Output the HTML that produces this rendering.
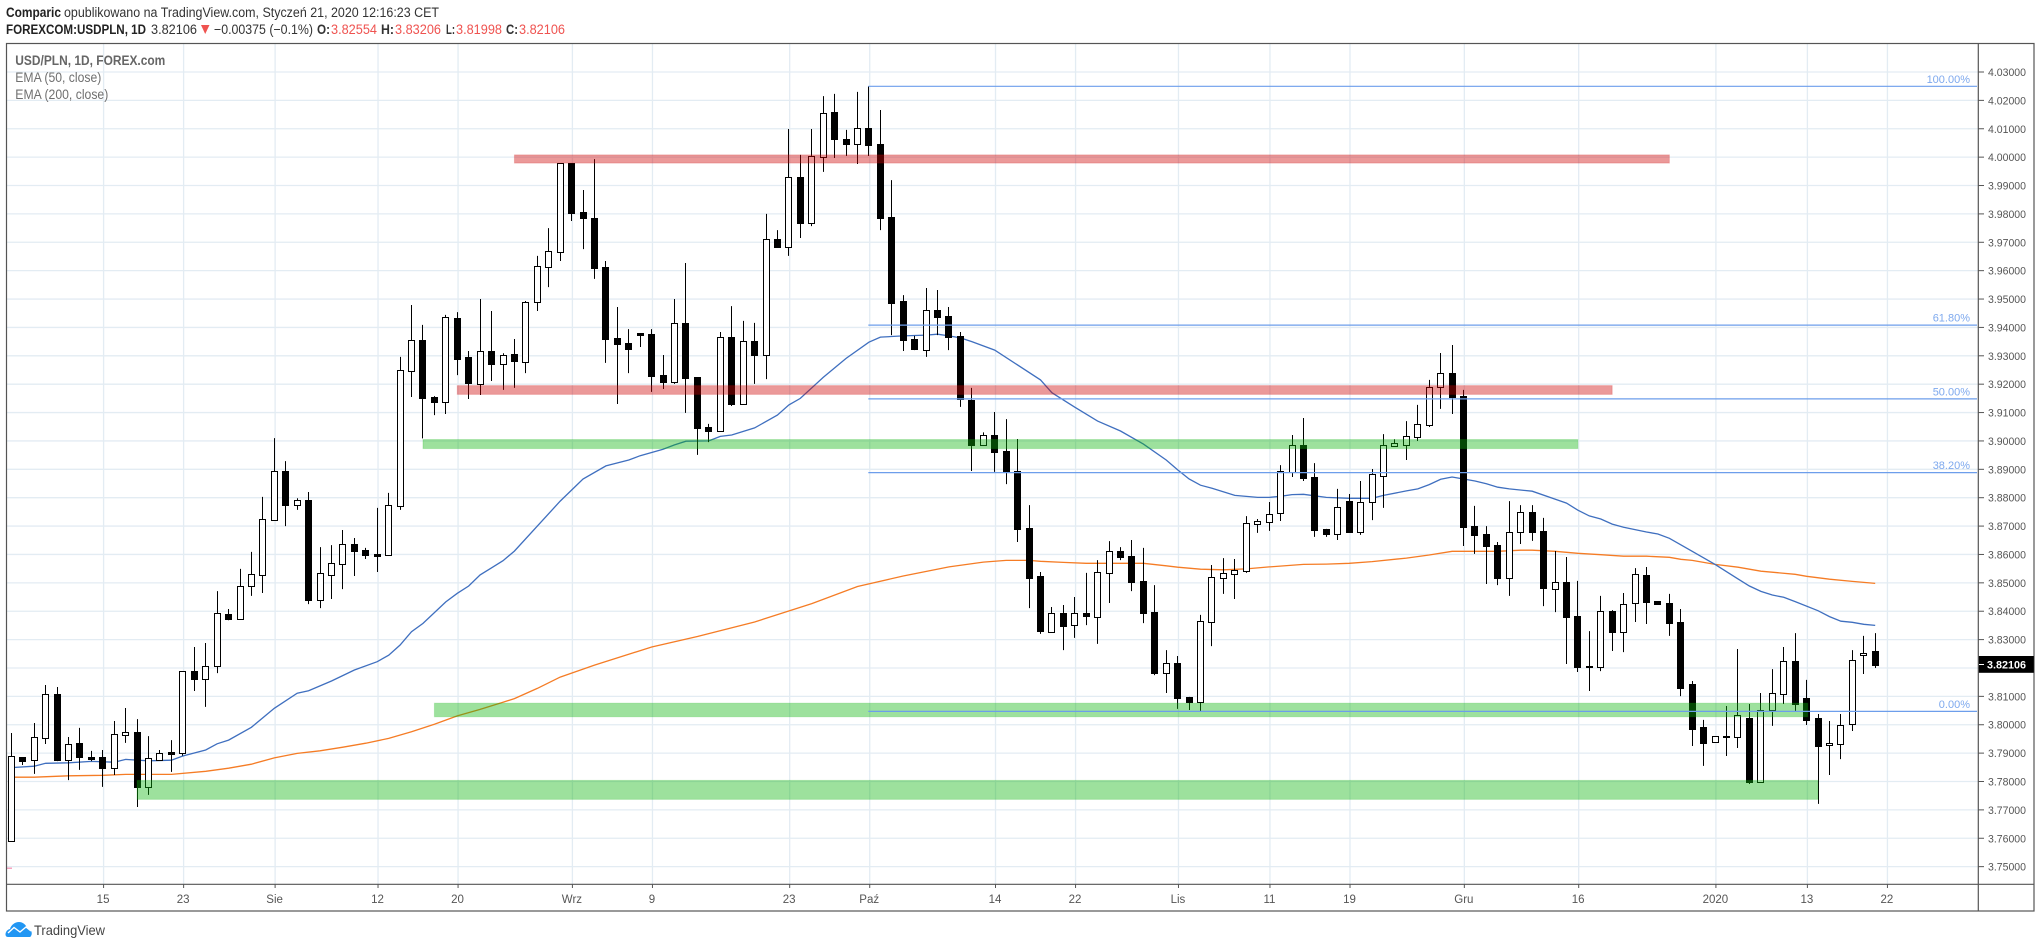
<!DOCTYPE html>
<html lang="pl">
<head>
<meta charset="utf-8">
<title>USD/PLN 1D chart</title>
<style>
html,body{margin:0;padding:0;background:#fff;width:2041px;height:948px;overflow:hidden}
svg{display:block;font-family:"Liberation Sans",sans-serif}
</style>
</head>
<body>
<svg id="chart" xmlns="http://www.w3.org/2000/svg" width="2041" height="948" viewBox="0 0 2041 948">
  <rect x="0" y="0" width="2041" height="948" fill="#fff"/>

  <g font-size="13.5" fill="#333">
    <text x="6" y="17" font-weight="bold" textLength="55" lengthAdjust="spacingAndGlyphs" fill="#222">Comparic</text>
    <text x="64" y="17" textLength="375" lengthAdjust="spacingAndGlyphs">opublikowano na TradingView.com, Styczeń 21, 2020 12:16:23 CET</text>
    <text x="6" y="34" font-weight="bold" textLength="140" lengthAdjust="spacingAndGlyphs" fill="#222">FOREXCOM:USDPLN, 1D</text>
    <text x="151" y="34" textLength="46" lengthAdjust="spacingAndGlyphs">3.82106</text>
    <polygon points="201,25 209.5,25 205.2,34" fill="#ef5350"/>
    <text x="214" y="34" textLength="99" lengthAdjust="spacingAndGlyphs">−0.00375 (−0.1%)</text>
    <text x="317" y="34" font-weight="bold" textLength="13" lengthAdjust="spacingAndGlyphs">O:</text>
    <text x="331" y="34" fill="#ef5350" textLength="46" lengthAdjust="spacingAndGlyphs">3.82554</text>
    <text x="381" y="34" font-weight="bold" textLength="13" lengthAdjust="spacingAndGlyphs">H:</text>
    <text x="395" y="34" fill="#ef5350" textLength="46" lengthAdjust="spacingAndGlyphs">3.83206</text>
    <text x="446" y="34" font-weight="bold" textLength="9" lengthAdjust="spacingAndGlyphs">L:</text>
    <text x="456" y="34" fill="#ef5350" textLength="46" lengthAdjust="spacingAndGlyphs">3.81998</text>
    <text x="506" y="34" font-weight="bold" textLength="12" lengthAdjust="spacingAndGlyphs">C:</text>
    <text x="519" y="34" fill="#ef5350" textLength="46" lengthAdjust="spacingAndGlyphs">3.82106</text>
  </g>

  <g id="grid"></g>
  <g id="ema-lines"></g>
  <g id="candles"></g>
  <g id="zones"></g>
  <g id="fib"></g>

  <rect x="7" y="867.6" width="5" height="1.2" fill="#f48fb1"/>

  <g font-size="13.5" fill="#6f6f6f">
    <text x="15.3" y="65" font-weight="bold" fill="#666" textLength="150" lengthAdjust="spacingAndGlyphs">USD/PLN, 1D, FOREX.com</text>
    <text x="15.3" y="82" textLength="86" lengthAdjust="spacingAndGlyphs">EMA (50, close)</text>
    <text x="15.3" y="99" textLength="93" lengthAdjust="spacingAndGlyphs">EMA (200, close)</text>
  </g>

  <g fill="none" stroke="#555" stroke-width="1.2">
    <rect x="6.5" y="43.5" width="2027.5" height="867.5"/>
    <line x1="6.5" y1="884.3" x2="2034" y2="884.3"/>
    <line x1="1978.3" y1="43.5" x2="1978.3" y2="911"/>
  </g>
  <g id="price-axis"></g>
  <g id="time-axis"></g>

  <g>
    <rect x="1978.8" y="656" width="55" height="16.8" fill="#000"/>
    <line x1="1979" y1="664.5" x2="1984" y2="664.5" stroke="#fff" stroke-width="1"/>
    <text x="1987" y="668.6" font-size="11" font-weight="bold" fill="#fff" textLength="39" lengthAdjust="spacingAndGlyphs">3.82106</text>
  </g>

  <g>
    <path d="M8 937 C4 937 5 930 10 929 C11 925 15 922 19 922 C23 922 26 925 27 928 C31 929 33 933 31 936 C30.500 937 30 937 29 937 Z" fill="#2196f3"/>
    <path d="M8 933 L14 927.500 L20 932 L26 927 L31 931" fill="none" stroke="#fff" stroke-width="1.4"/>
    <text x="34" y="935" font-size="14" fill="#444" textLength="71" lengthAdjust="spacingAndGlyphs">TradingView</text>
  </g>
</svg>

<script>
const opens = [3.7592,3.7886,3.7874,3.7955,3.8108,3.7877,3.7936,3.7886,3.7886,3.7849,3.7965,3.7975,3.7782,3.7877,3.7904,3.7902,3.8189,3.8162,3.8206,3.8389,3.8374,3.8490,3.8529,3.8723,3.8894,3.8775,3.8792,3.8441,3.8529,3.8568,3.8637,3.8616,3.8602,3.8599,3.8772,3.9248,3.9356,3.9155,3.9138,3.9433,3.9296,3.9202,3.9317,3.9272,3.9306,3.9279,3.9488,3.9614,3.9667,3.9978,3.9807,3.9786,3.9613,3.9363,3.9345,3.9380,3.9377,3.9232,3.9209,3.9416,3.9225,3.9049,3.9036,3.9366,3.9130,3.9352,3.9304,3.9712,3.9685,3.9930,3.9769,4.0002,4.0159,4.0064,4.0047,4.0103,4.0046,3.9789,3.9493,3.9359,3.9322,3.9461,3.9440,3.9370,3.9144,3.8987,3.9020,3.8965,3.8894,3.8693,3.8524,3.8328,3.8394,3.8353,3.8394,3.8381,3.8536,3.8612,3.8595,3.8507,3.8397,3.8183,3.8218,3.8098,3.8081,3.8363,3.8518,3.8532,3.8543,3.8708,3.8716,3.8745,3.8889,3.8986,3.8873,3.8690,3.8673,3.8788,3.8680,3.8786,3.8878,3.8983,3.8985,3.9015,3.9057,3.9189,3.9239,3.9158,3.8700,3.8672,3.8633,3.8518,3.8678,3.8750,3.8683,3.8479,3.8503,3.8383,3.8207,3.8205,3.8401,3.8328,3.8428,3.8528,3.8435,3.8428,3.8361,3.8144,3.7992,3.7938,3.7960,3.7958,3.8024,3.7797,3.8053,3.8110,3.8225,3.8094,3.8024,3.7928,3.7933,3.8001,3.8245,3.8260];
const highs = [3.7971,3.7886,3.8006,3.8140,3.8133,3.7957,3.7989,3.7908,3.7911,3.8013,3.8059,3.8020,3.7960,3.7911,3.7946,3.8188,3.8274,3.8288,3.8471,3.8408,3.8549,3.8609,3.8803,3.9010,3.8929,3.8798,3.8820,3.8626,3.8633,3.8686,3.8658,3.8623,3.8764,3.8817,3.9296,3.9479,3.9409,3.9158,3.9444,3.9454,3.9317,3.9500,3.9458,3.9309,3.9359,3.9493,3.9652,3.9750,3.9978,3.9978,3.9884,3.9993,3.9634,3.9472,3.9394,3.9380,3.9394,3.9303,3.9500,3.9627,3.9225,3.9060,3.9384,3.9475,3.9423,3.9416,3.9800,3.9743,4.0099,4.0008,4.0099,4.0215,4.0223,4.0096,4.0230,4.0250,4.0166,3.9919,3.9514,3.9370,3.9539,3.9532,3.9472,3.9384,3.9187,3.9030,3.9102,3.9077,3.9007,3.8774,3.8538,3.8415,3.8422,3.8450,3.8535,3.8580,3.8647,3.8626,3.8651,3.8623,3.8492,3.8263,3.8242,3.8098,3.8387,3.8563,3.8587,3.8584,3.8735,3.8725,3.8785,3.8915,3.9021,3.9081,3.8922,3.8690,3.8831,3.8813,3.8859,3.8901,3.9024,3.9006,3.9070,3.9127,3.9215,3.9310,3.9338,3.9180,3.8771,3.8700,3.8644,3.8788,3.8774,3.8774,3.8729,3.8612,3.8591,3.8507,3.8330,3.8454,3.8404,3.8464,3.8552,3.8556,3.8435,3.8461,3.8408,3.8154,3.8017,3.7959,3.8066,3.8267,3.8073,3.8112,3.8196,3.8274,3.8323,3.8158,3.8038,3.8013,3.8038,3.8263,3.8313,3.8323];
const lows = [3.7587,3.7858,3.7827,3.7932,3.7872,3.7805,3.7841,3.7872,3.7781,3.7823,3.7936,3.7710,3.7753,3.7877,3.7834,3.7891,3.8119,3.8063,3.8182,3.8368,3.8369,3.8454,3.8464,3.8723,3.8700,3.8757,3.8425,3.8411,3.8443,3.8478,3.8524,3.8584,3.8538,3.8595,3.8757,3.9155,3.9009,3.9091,3.9095,3.9232,3.9148,3.9162,3.9211,3.9180,3.9187,3.9239,3.9458,3.9542,3.9634,3.9775,3.9676,3.9571,3.9275,3.9130,3.9239,3.9331,3.9173,3.9183,3.9201,3.9099,3.8951,3.8996,3.9032,3.9123,3.9127,3.9201,3.9218,3.9680,3.9652,3.9715,3.9757,3.9948,3.9997,4.0004,3.9976,4.0004,3.9743,3.9373,3.9317,3.9320,3.9296,3.9373,3.9320,3.9120,3.8894,3.8987,3.8891,3.8848,3.8644,3.8411,3.8320,3.8328,3.8263,3.8306,3.8351,3.8285,3.8429,3.8580,3.8471,3.8358,3.8175,3.8112,3.8056,3.8052,3.8048,3.8277,3.8461,3.8443,3.8535,3.8676,3.8683,3.8718,3.8873,3.8859,3.8662,3.8662,3.8651,3.8676,3.8669,3.8721,3.8764,3.8983,3.8933,3.9000,3.9049,3.9113,3.9095,3.8630,3.8602,3.8496,3.8492,3.8454,3.8637,3.8648,3.8418,3.8397,3.8214,3.8186,3.8119,3.8189,3.8260,3.8256,3.8362,3.8355,3.8427,3.8313,3.8101,3.7925,3.7855,3.7938,3.7890,3.7918,3.7791,3.7797,3.7996,3.8073,3.8048,3.7999,3.7721,3.7823,3.7879,3.7978,3.8179,3.8200];
const closes = [3.7889,3.7872,3.7956,3.8107,3.7876,3.7931,3.7886,3.7881,3.7848,3.7966,3.7973,3.7781,3.7882,3.7899,3.7898,3.8188,3.8161,3.8206,3.8393,3.8373,3.8488,3.8530,3.8724,3.8893,3.8774,3.8791,3.8440,3.8533,3.8569,3.8636,3.8612,3.8598,3.8595,3.8773,3.9249,3.9355,3.9151,3.9137,3.9436,3.9289,3.9204,3.9316,3.9271,3.9302,3.9282,3.9490,3.9615,3.9668,3.9978,3.9803,3.9786,3.9609,3.9359,3.9342,3.9324,3.9373,3.9229,3.9208,3.9414,3.9222,3.9046,3.9035,3.9365,3.9130,3.9351,3.9303,3.9710,3.9683,3.9929,3.9768,4.0003,4.0154,4.0064,4.0046,4.0102,4.0043,3.9786,3.9486,3.9356,3.9324,3.9460,3.9437,3.9366,3.9148,3.8986,3.9020,3.8961,3.8891,3.8690,3.8517,3.8330,3.8393,3.8348,3.8393,3.8383,3.8537,3.8611,3.8591,3.8503,3.8394,3.8182,3.8216,3.8094,3.8080,3.8364,3.8519,3.8533,3.8544,3.8710,3.8717,3.8741,3.8893,3.8985,3.8869,3.8686,3.8672,3.8766,3.8679,3.8784,3.8882,3.8985,3.8992,3.9016,3.9058,3.9189,3.9238,3.9155,3.8697,3.8669,3.8630,3.8517,3.8678,3.8748,3.8679,3.8482,3.8502,3.8380,3.8203,3.8205,3.8400,3.8327,3.8424,3.8530,3.8433,3.8427,3.8359,3.8130,3.7985,3.7936,3.7959,3.7958,3.8033,3.7798,3.8051,3.8111,3.8223,3.8073,3.8017,3.7925,3.7935,3.7998,3.8227,3.8252,3.8211];

const ema50Days = [0,2,3,5,7,9,10,12,14,15,17,18,19,21,23,25,26,28,30,32,33,34,35,36,38,39,40,41,42,43,44,48,50,52,54,55,57,58,59,61,62,63,65,67,68,69,71,73,75,76,78,80,81,82,83,84,86,90,91,93,95,97,99,101,102,103,104,105,107,109,110,111,112,113,115,117,119,120,122,123,124,125,126,128,129,130,131,133,135,136,137,138,139,140,141,143,144,145,146,147,149,151,152,153,154,155,156,158,159,160,161,162,163];
const ema50Values = [3.7849,3.7854,3.7864,3.7866,3.7871,3.7868,3.7878,3.7873,3.7875,3.7890,3.7911,3.7933,3.7946,3.7991,3.8058,3.8111,3.8120,3.8154,3.8193,3.8222,3.8245,3.8281,3.8328,3.8357,3.8433,3.8463,3.8489,3.8528,3.8553,3.8578,3.8612,3.8788,3.8866,3.8912,3.8933,3.8948,3.8971,3.8986,3.8999,3.9000,3.9016,3.9021,3.9046,3.9091,3.9127,3.9150,3.9224,3.9291,3.9348,3.9366,3.9370,3.9373,3.9376,3.9370,3.9363,3.9350,3.9320,3.9215,3.9170,3.9119,3.9070,3.9035,3.8989,3.8933,3.8898,3.8866,3.8844,3.8833,3.8808,3.8801,3.8801,3.8805,3.8811,3.8812,3.8801,3.8798,3.8798,3.8808,3.8824,3.8831,3.8846,3.8865,3.8873,3.8859,3.8849,3.8837,3.8831,3.8823,3.8795,3.8781,3.8756,3.8736,3.8725,3.8707,3.8696,3.8679,3.8672,3.8657,3.8634,3.8611,3.8565,3.8514,3.8489,3.8470,3.8457,3.8449,3.8434,3.8402,3.8381,3.8365,3.8361,3.8354,3.8350];
const ema200Days = [0,2,5,8,10,14,17,19,21,23,25,27,29,31,33,35,37,39,41,43,44,46,48,51,56,60,65,70,74,78,82,85,87,89,90,92,94,97,99,101,102,104,106,108,110,113,115,117,119,122,124,126,130,132,133,135,137,139,141,143,145,146,147,149,151,153,156,157,159,161,163];
const ema200Values = [3.7815,3.7815,3.7820,3.7822,3.7825,3.7825,3.7836,3.7847,3.7861,3.7883,3.7899,3.7908,3.7921,3.7935,3.7952,3.7975,3.8002,3.8031,3.8054,3.8079,3.8092,3.8128,3.8168,3.8210,3.8274,3.8311,3.8362,3.8427,3.8487,3.8524,3.8556,3.8573,3.8579,3.8579,3.8576,3.8572,3.8569,3.8569,3.8569,3.8560,3.8555,3.8548,3.8546,3.8549,3.8556,3.8565,3.8566,3.8569,3.8575,3.8587,3.8598,3.8611,3.8611,3.8615,3.8615,3.8611,3.8604,3.8599,3.8594,3.8594,3.8590,3.8583,3.8579,3.8565,3.8555,3.8541,3.8530,3.8523,3.8513,3.8505,3.8498];

const priceTicks = [4.03,4.02,4.01,4.00,3.99,3.98,3.97,3.96,3.95,3.94,3.93,3.92,3.91,3.90,3.89,3.88,3.87,3.86,3.85,3.84,3.83,3.82,3.81,3.80,3.79,3.78,3.77,3.76,3.75];
const timeTickDays = [8,15,23,32,39,49,56,68,75,86,93,102,110,117,127,137,149,157,164];
const timeTickLabels = ['15','23','Sie','12','20','Wrz','9','23','Paź','14','22','Lis','11','19','Gru','16','2020','13','22'];

const fibStartDay = 75;
const fibHigh = 4.02496;
const fibLow = 3.8047;
const fibRatios = [1,0.618,0.5,0.382,0];
const fibLabels = ['100.00%','61.80%','50.00%','38.20%','0.00%'];

const zoneKinds = ['red','red','green','green','green'];
const zoneStartDays = [44,39,36,37,11];
const zoneEndDays = [145,140,137,157.1,158];
const zoneTopPrices = [4.0008,3.9195,3.9005,3.8076,3.7804];
const zoneBottomPrices = [3.9979,3.9164,3.8973,3.8028,3.7737];

const xOf = function (day) { return 11.3 + 11.435 * day; };
const yOf = function (price) { return 72 + (4.03 - price) * 2838; };
const NS = 'http://www.w3.org/2000/svg';
function make(tag, parent, props) {
  const el = document.createElementNS(NS, tag);
  for (const k in props) el.setAttribute(k, props[k]);
  parent.appendChild(el);
  return el;
}
const gridG = document.getElementById('grid');
const emaG = document.getElementById('ema-lines');
const candleG = document.getElementById('candles');
const zoneG = document.getElementById('zones');
const fibG = document.getElementById('fib');
const priceG = document.getElementById('price-axis');
const timeG = document.getElementById('time-axis');

priceTicks.forEach(function (p) {
  const y = yOf(p);
  const g = make('line', gridG, {x1: 7, x2: 1978, y1: y, y2: y, stroke: '#e3ecf3', 'stroke-width': 1.3});
  
  
  const t = make('line', priceG, {x1: 1978.3, x2: 1984, y1: y, y2: y, stroke: '#555', 'stroke-width': 1});
  
  
  const l = make('text', priceG, {x: 1988, y: y + 4, 'font-size': 11, fill: '#555', textLength: 38, lengthAdjust: 'spacingAndGlyphs'});
  l.textContent = p.toFixed(5);
  
  
});

timeTickDays.forEach(function (d, i) {
  const x = xOf(d) + 0.8;
  const g = make('line', gridG, {x1: x, x2: x, y1: 44, y2: 884, stroke: '#e3ecf3', 'stroke-width': 1.3});
  
  
  const t = make('line', timeG, {x1: x, x2: x, y1: 884.3, y2: 888, stroke: '#555', 'stroke-width': 1});
  
  
  const l = make('text', timeG, {x: x - 0.5, y: 903, 'font-size': 11.5, fill: '#555', 'text-anchor': 'middle'});
  l.textContent = timeTickLabels[i];
  
  
});

function emaPath(days, values) {
  return days.map(function (d, i) {
    return (i ? 'L' : 'M') + xOf(d).toFixed(1) + ' ' + yOf(values[i]).toFixed(1);
  }).join(' ');
}
const ema200Line = make('path', emaG, {d: emaPath(ema200Days, ema200Values), fill: 'none', stroke: '#f57c25', 'stroke-width': 1.3});


const ema50Line = make('path', emaG, {d: emaPath(ema50Days, ema50Values), fill: 'none', stroke: '#3f6fbf', 'stroke-width': 1.3});



opens.forEach(function (o, i) {
  const c = closes[i];
  const cx = Math.round(xOf(i) - 0.5) + 0.5;
  const up = c >= o;
  const wick = make('line', candleG, {x1: cx, x2: cx, y1: yOf(highs[i]), y2: yOf(lows[i]), stroke: '#000', 'stroke-width': 1});
  
  
  const top = Math.round(yOf(Math.max(o, c))) + 0.5;
  const bot = Math.round(yOf(Math.min(o, c))) + 0.5;
  const body = make('rect', candleG, {x: cx - 3, y: top, width: 6, height: Math.max(bot - top, 1), fill: up ? '#fff' : '#000', stroke: '#000', 'stroke-width': 1});
  
  
});

zoneKinds.forEach(function (kind, i) {
  const x1 = xOf(zoneStartDays[i]);
  const x2 = xOf(zoneEndDays[i]);
  const y1 = yOf(zoneTopPrices[i]);
  const y2 = yOf(zoneBottomPrices[i]);
  const z = make('rect', zoneG, {
    x: x1, y: y1, width: x2 - x1, height: y2 - y1,
    fill: kind === 'red' ? 'rgba(204,0,0,0.4)' : 'rgba(10,180,10,0.4)',
    stroke: kind === 'red' ? 'rgba(204,0,0,0.18)' : 'rgba(10,180,10,0.18)',
    'stroke-width': 1
  });
  
  
});

fibRatios.forEach(function (r, i) {
  const y = yOf(fibLow + r * (fibHigh - fibLow));
  const l = make('line', fibG, {x1: xOf(fibStartDay) - 0.6, x2: 1977, y1: y, y2: y, stroke: '#6d9eeb', 'stroke-width': 1.2});
  
  
  const t = make('text', fibG, {x: 1970, y: y - 3.5, 'font-size': 11, fill: '#7ea9ee', 'text-anchor': 'end'});
  t.textContent = fibLabels[i];
  
  
});
</script>
</body>
</html>
